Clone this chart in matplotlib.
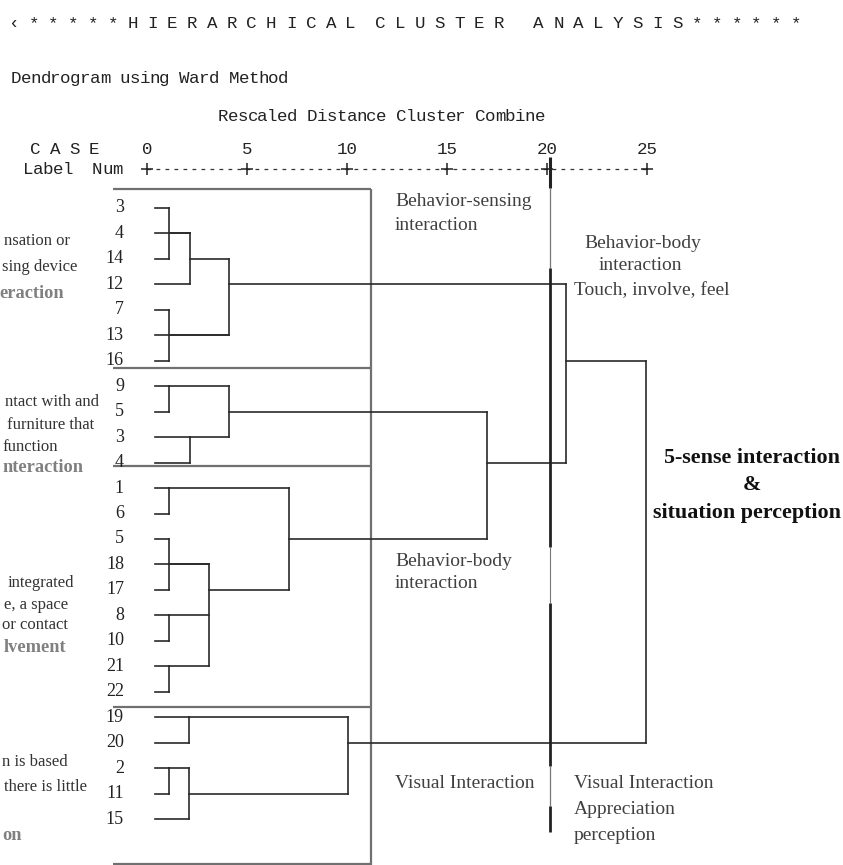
import matplotlib.pyplot as plt
from matplotlib import rcParams
from matplotlib.collections import LineCollection

rcParams.update({'font.family': ['Liberation Serif', 'DejaVu Serif']})

# ---- data -------------------------------------------------------------------
# case labels, top to bottom
leaf_labels = ["3", "4", "14", "12", "7", "13", "16",
               "9", "5", "3", "4",
               "1", "6", "5", "18", "17", "8", "10", "21", "22",
               "19", "20", "2", "11", "15"]
leaf_start = 0.4

# merges (node ids continue after the leaves: 25, 26, ...)
merge_children = [[0, 2], [25, 1, 3], [4, 6], [26, 27, 5],
                  [7, 8], [9, 10], [29, 30],
                  [11, 12], [13, 15], [16, 17], [18, 19],
                  [33, 14, 34, 35], [32, 36], [31, 37], [28, 38],
                  [20, 21], [22, 23], [41, 24], [40, 42], [39, 43]]
merge_height = [1.1, 2.15, 1.1, 4.1, 1.1, 2.15, 4.1,
                1.1, 1.1, 1.1, 1.1, 3.1, 7.1, 17.0, 20.95,
                2.1, 1.1, 2.1, 10.05, 24.95]
merge_row = [1, 2, 5, 3, 7, 9, 8,
             11, 14, 16, 18, 15, 13, 10, 6,
             20, 22, 23, 21, 13]

scale_ticks = [0, 5, 10, 15, 20, 25]

# group boxes drawn over the dendrogram (rows)
box_rows = [-0.75, 6.3, 10.15, 19.6, 25.75]
box_x = (-1.7, 11.2)

# cut line at distance ~20 (row ranges, line width)
cut_x = 20.15
cut_segs = [(-2.0, -0.8, 2.2), (-0.8, 2.35, 0.9), (2.35, 13.3, 2.0),
            (13.3, 15.5, 0.8), (15.5, 21.9, 2.0), (21.9, 23.5, 0.9),
            (23.5, 24.5, 2.0)]

# ---- figure -----------------------------------------------------------------
W, H = 843, 865
fig = plt.figure(figsize=(W / 100, H / 100), dpi=100)

# page axes in pixels (for free text)
pg = fig.add_axes([0, 0, 1, 1])
pg.set_xlim(0, W)
pg.set_ylim(H, 0)
pg.axis('off')

# dendrogram axes: x = rescaled distance, y = case row
X0, XS = 147, 20.0       # px of distance 0, px per unit
Y0, YS = 208, 25.46      # px of row 0, px per row
ax = fig.add_axes([0, 0, 1, 1])
ax.set_xlim(-X0 / XS, (W - X0) / XS)
ax.set_ylim((H - Y0) / YS, -Y0 / YS)
ax.axis('off')
ax.patch.set_alpha(0)

# header: SPSS text output, one glyph per fixed-width cell
PITCH = 9.9
mono = dict(family='Liberation Mono', fontsize=12.6, color='#222222',
            ha='center', va='baseline')


def mono_text(x, y, s):
    for i, ch in enumerate(s):
        if ch != ' ':
            pg.text(x + PITCH * (i + 0.5), y, ch, **mono)


title = "\u2039 * * * * * H I E R A R C H I C A L  C L U S T E R   A N A L Y S I S * * * * * *"
mono_text(9, 28, title)
mono_text(11, 83, "Dendrogram using Ward Method")
mono_text(218, 121, "Rescaled Distance Cluster Combine")
mono_text(30, 154, "C A S E")
mono_text(23, 174, "Label  Num")

axis_row = (169 - Y0) / YS
ax.plot([scale_ticks[0], scale_ticks[-1]], [axis_row, axis_row], color='#333333',
        lw=0.9, dashes=(3, 4.2))
ax.plot(scale_ticks, [axis_row] * len(scale_ticks), ls='none', marker='+',
        ms=8, mew=1.1, color='#222222')
for t in scale_ticks:
    ax.text(t, (154 - Y0) / YS, str(t), **mono)

# group boxes
box_segs = [[(box_x[0], r), (box_x[1], r)] for r in box_rows]
box_segs.append([(box_x[1], box_rows[0]), (box_x[1], box_rows[-1] + 0.1)])
ax.add_collection(LineCollection(box_segs, colors='#707070', linewidths=1.6))

# dendrogram
n = len(leaf_labels)
node_row = list(range(n)) + merge_row
node_x = [leaf_start] * n + merge_height
segs = []
for kids, h in zip(merge_children, merge_height):
    rows = [node_row[c] for c in kids]
    for c in kids:
        segs.append([(node_x[c], node_row[c]), (h, node_row[c])])
    segs.append([(h, min(rows)), (h, max(rows))])
ax.add_collection(LineCollection(segs, colors='#2a2a2a', linewidths=1.2,
                                 capstyle='projecting'))

for r, lab in enumerate(leaf_labels):
    ax.text(-1.15, r, lab, ha='right', va='center', fontsize=13, color='#222222')

# cut line
for r0, r1, lw in cut_segs:
    col = '#222222' if lw > 1.5 else '#777777'
    ax.plot([cut_x, cut_x], [r0, r1], color=col, lw=lw, solid_capstyle='butt')

# annotations
reg = dict(fontsize=14, color='#404040', va='center')
pg.text(395, 202, "Behavior-sensing", **reg)
pg.text(395, 225, "interaction", **reg)
pg.text(643, 243, "Behavior-body", ha='center', **reg)
pg.text(640, 266, "interaction", ha='center', **reg)
pg.text(574, 291, "Touch, involve, feel", **reg)
pg.text(395, 561, "Behavior-body", **reg)
pg.text(395, 584, "interaction", **reg)
pg.text(395, 783, "Visual Interaction", **reg)
pg.text(574, 783, "Visual Interaction", **reg)
pg.text(574, 810, "Appreciation", **reg)
pg.text(574, 836, "perception", **reg)

big = dict(fontsize=15.8, fontweight='bold', color='#111111', ha='center', va='center')
pg.text(752, 458, "5-sense interaction", **big)
pg.text(752, 485, "&", **big)
pg.text(747, 513, "situation perception", **big)

# cut-off descriptions on the left edge of the page
side = dict(fontsize=12, color='#333333', ha='right', va='center')
side_b = dict(fontsize=13.2, color='#808080', fontweight='bold', ha='right', va='center')
pg.text(70, 241, "nsation or", **side)
pg.text(77, 267, "sing device", **side)
pg.text(64, 293, "eraction", **side_b)
pg.text(99, 402, "ntact with and", **side)
pg.text(94, 425, "furniture that", **side)
pg.text(58, 447, "function", **side)
pg.text(83, 467, "nteraction", **side_b)
pg.text(74, 583, "integrated", **side)
pg.text(68, 605, "e, a space", **side)
pg.text(68, 625, "or contact", **side)
pg.text(66, 647, "lvement", **side_b)
pg.text(68, 762, "n is based", **side)
pg.text(87, 787, "there is little", **side)
pg.text(22, 836, "on", **side_b)

fig.savefig("out.png", dpi=100, facecolor='white')
